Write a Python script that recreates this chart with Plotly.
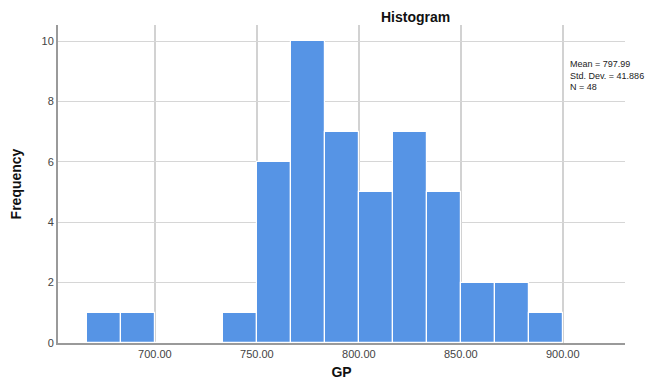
import plotly.graph_objects as go

# Histogram data (bins of width 50/3 starting at 666.67)
bin_start = 2000 / 3
bin_width = 50 / 3
counts = [1, 1, 0, 0, 1, 6, 10, 7, 5, 7, 5, 2, 2, 1]
x_ticks = [700, 750, 800, 850, 900]
x_tick_labels = ["700.00", "750.00", "800.00", "850.00", "900.00"]
y_ticks = [0, 2, 4, 6, 8, 10]
stats_text = ["Mean = 797.99", "Std. Dev. = 41.886", "N = 48"]

centers = [bin_start + bin_width * (i + 0.5) for i in range(len(counts))]

fig = go.Figure()
fig.add_trace(go.Bar(
    x=centers, y=counts, width=[bin_width] * len(counts),
    marker=dict(color="#5694E5", line=dict(color="white", width=1.2)),
    hoverinfo="x+y",
))

# The page body has an 8px margin, so the figure is sized to fit the window.
fig.update_layout(
    width=651, height=378,
    margin=dict(l=50, r=34, t=17, b=43),
    paper_bgcolor="white", plot_bgcolor="white",
    showlegend=False,
    font=dict(family="Liberation Sans, Arial, sans-serif", color="#333"),
    bargap=0,
    xaxis=dict(
        range=[652.5, 930.5], automargin=False,
        tickvals=x_ticks, ticktext=x_tick_labels,
        showgrid=True, gridcolor="#d2d2d2", gridwidth=1.5,
        showline=True, linecolor="#9a9a9a", linewidth=2,
        zeroline=False, ticks="",
        tickfont=dict(size=11, color="#444"),
        title=dict(text="<b>GP</b>", font=dict(size=14, color="#111"), standoff=8),
    ),
    yaxis=dict(
        range=[0, 10.53], automargin=False,
        tickvals=y_ticks,
        showgrid=True, gridcolor="#d6d6d6", gridwidth=1.2,
        showline=True, linecolor="#9a9a9a", linewidth=2,
        zeroline=False, ticks="",
        tickfont=dict(size=11, color="#444"),
        title=dict(text="<b>Frequency</b>", font=dict(size=14, color="#111"), standoff=18),
    ),
    annotations=[
        dict(text="<b>Histogram</b>", xref="paper", yref="paper",
             x=(415 - 58) / (625 - 58), y=1, yanchor="middle", xanchor="center",
             yshift=8, borderpad=0, showarrow=False, font=dict(size=14, color="#111")),
        dict(text="<br>".join(stats_text), xref="paper", yref="paper",
             x=(568 - 58) / (625 - 58), y=(343 - 57) / (343 - 25),
             xanchor="left", yanchor="top", align="left", showarrow=False,
             font=dict(size=9, color="#222")),
    ],
)

fig.write_html("out.html")
